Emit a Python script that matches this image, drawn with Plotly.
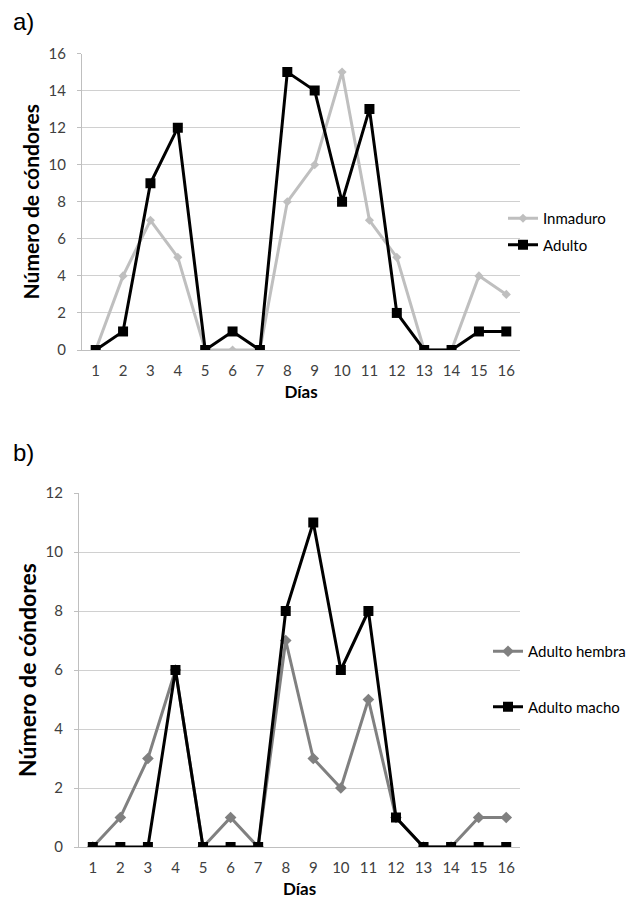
import plotly.graph_objects as go

dias = list(range(1, 17))
dia_labels = [str(d) for d in dias]
inmaduro = [0, 4, 7, 5, 0, 0, 0, 8, 10, 15, 7, 5, 0, 0, 4, 3]
adulto = [0, 1, 9, 12, 0, 1, 0, 15, 14, 8, 13, 2, 0, 0, 1, 1]
hembra = [0, 1, 3, 6, 0, 1, 0, 7, 3, 2, 5, 1, 0, 0, 1, 1]
macho = [0, 0, 0, 6, 0, 0, 0, 8, 11, 6, 8, 1, 0, 0, 0, 0]

W, H = 635, 904
FONT = "Lato"
TICKC = "#404040"
# page offset (browser body margin)
OFF = 8
PW = 512  # paper width (right margin = W - PW)

fig = go.Figure()
fig.add_trace(go.Scatter(x=dias, y=inmaduro, name="Inmaduro", mode="lines+markers",
                         line=dict(color="#BFBFBF", width=3),
                         marker=dict(symbol="diamond", size=7, color="#BFBFBF"),
                         xaxis="x", yaxis="y", legend="legend", legendgroup="i"))
fig.add_trace(go.Scatter(x=dias, y=adulto, name="Adulto", mode="lines+markers",
                         line=dict(color="#000000", width=3),
                         marker=dict(symbol="square", size=10, color="#000000"),
                         xaxis="x", yaxis="y", legend="legend", legendgroup="a"))
fig.add_trace(go.Scatter(x=dias, y=hembra, name="Adulto hembra", mode="lines+markers",
                         line=dict(color="#808080", width=3),
                         marker=dict(symbol="diamond", size=9, color="#808080"),
                         xaxis="x2", yaxis="y2", legend="legend2", legendgroup="h"))
fig.add_trace(go.Scatter(x=dias, y=macho, name="Adulto macho", mode="lines+markers",
                         line=dict(color="#000000", width=3),
                         marker=dict(symbol="square", size=10, color="#000000"),
                         xaxis="x2", yaxis="y2", legend="legend2", legendgroup="m"))

def px(x):
    return (x - OFF) / PW

def py(y):
    return 1 - (y - OFF) / H

xcommon = dict(range=[0.5, 16.5], tickvals=dias, ticktext=dia_labels, showgrid=False,
               showline=True, linecolor="#BFBFBF", linewidth=1, ticks="",
               ticklabelstandoff=7,
               tickfont=dict(family=FONT, size=15, color=TICKC), zeroline=False,
               automargin=False)
ycommon = dict(showgrid=True, gridcolor="#D0D0D0", gridwidth=1, showline=True,
               linecolor="#BFBFBF", linewidth=1, ticks="outside", ticklen=4,
               tickcolor="#BFBFBF", zeroline=False, automargin=False,
               ticklabelstandoff=8,
               tickfont=dict(family=FONT, size=15, color=TICKC))

xtitle = dict(text="<b>Días</b>", font=dict(family=FONT, size=17, color="#000"), standoff=8)
ytitle_a = dict(text="<b>Número de cóndores</b>", font=dict(family=FONT, size=21, color="#000"), standoff=3)
ytitle_b = dict(text="<b>Número de cóndores</b>", font=dict(family=FONT, size=23, color="#000"), standoff=2)

fig.update_layout(
    width=W, height=H, margin=dict(l=0, r=W - PW, t=0, b=0),
    plot_bgcolor="white", paper_bgcolor="white",
    xaxis=dict(domain=[px(82), 1], anchor="y", title=xtitle, **xcommon),
    yaxis=dict(domain=[py(350), py(53.5)], anchor="x", range=[0, 16], dtick=2,
               title=ytitle_a, **ycommon),
    xaxis2=dict(domain=[px(79), 1], anchor="y2", title=xtitle, **xcommon),
    yaxis2=dict(domain=[py(847), py(493)], anchor="x2", range=[0, 12], dtick=2,
                title=ytitle_b, **ycommon),
    legend=dict(x=px(503), y=py(202), xanchor="left", yanchor="top",
                font=dict(family=FONT, size=15, color="#000"), itemwidth=30,
                bgcolor="rgba(0,0,0,0)", traceorder="grouped", tracegroupgap=4),
    legend2=dict(x=px(488), y=py(635), xanchor="left", yanchor="top",
                 font=dict(family=FONT, size=15, color="#000"), itemwidth=30,
                 bgcolor="rgba(0,0,0,0)", traceorder="grouped", tracegroupgap=33),
    annotations=[
        dict(text="a)", x=px(11), y=py(22), xref="paper", yref="paper", showarrow=False,
             xanchor="left", yanchor="middle", font=dict(family="Liberation Sans", size=24, color="#000")),
        dict(text="b)", x=px(11), y=py(452), xref="paper", yref="paper", showarrow=False,
             xanchor="left", yanchor="middle", font=dict(family="Liberation Sans", size=24, color="#000")),
    ],
)

fig.write_html("out.html")
